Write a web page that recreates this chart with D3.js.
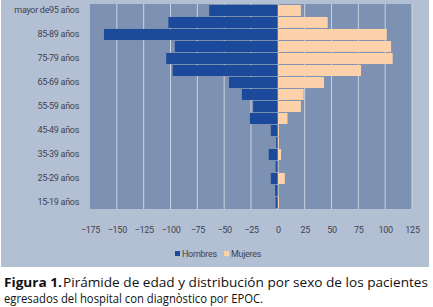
<!DOCTYPE html>
<html>
<head>
<meta charset="utf-8">
<script src="https://cdn.jsdelivr.net/npm/d3@7"></script>
<style>
  body { margin: 0; background: #fff; }
  svg { display: block; }
</style>
</head>
<body>
<div id="chart"></div>
<script>
// age groups, bottom to top
const categories = ["15-19 años", "20-24 años", "25-29 años", "30-34 años", "35-39 años",
    "40-44 años", "45-49 años", "50-54 años", "55-59 años", "60-64 años", "65-69 años",
    "70-74 años", "75-79 años", "80-84 años", "85-89 años", "90-94 años", "mayor de95 años"]
const hombres = [-2, -2.5, -6.5, -2, -8.5, -1.5, -6.5, -26, -23, -33.5, -45.5, -98, -104, -96, -162, -102, -64]
const mujeres = [1, 0.5, 6.5, 0.5, 3, 1, 1, 9, 21.5, 24, 43, 77.5, 107, 105.5, 101.5, 46.5, 21.5]
const ticks = [-175, -150, -125, -100, -75, -50, -25, 0, 25, 50, 75, 100, 125]
const seriesNames = ["Hombres", "Mujeres"]

const width = 433, height = 307
const colors = {
    outer: '#b3bfd3',
    plot: '#7d92b2',
    grid: '#dde3ec',
    hombres: '#1c4a9a',
    mujeres: '#fdd1aa',
    text: '#3f4450'
}
const plot = {left: 90, right: 412, top: 4, bottom: 209}
const chartFont = '"Liberation Sans Narrow", "Roboto", sans-serif'

const svg = d3.select('#chart')
    .append('svg')
    .attr('width', width)
    .attr('height', height)

svg.append('rect')
    .attr('x', 1).attr('y', 0)
    .attr('width', 428).attr('height', 267)
    .attr('fill', colors.outer)

const x = d3.scaleLinear()
    .domain([-175, 125])
    .range([plot.left, plot.right])

const y = d3.scaleBand()
    .domain(categories)
    .range([plot.bottom, plot.top])
    .padding(0.08)

svg.append('rect')
    .attr('x', plot.left).attr('y', plot.top)
    .attr('width', plot.right - plot.left)
    .attr('height', plot.bottom - plot.top)
    .attr('fill', colors.plot)

// gridlines
svg.append('g')
    .selectAll('line')
    .data(ticks.slice(1))
    .join('line')
    .attr('x1', d => x(d)).attr('x2', d => x(d))
    .attr('y1', plot.top).attr('y2', plot.bottom)
    .attr('stroke', colors.grid)
    .attr('stroke-width', 1)
    .attr('stroke-opacity', 0.8)

// bars
const bars = svg.append('g')
bars.selectAll('rect.h')
    .data(categories)
    .join('rect')
    .attr('class', 'h')
    .attr('x', (d, i) => x(hombres[i]))
    .attr('y', d => y(d))
    .attr('width', (d, i) => x(0) - x(hombres[i]))
    .attr('height', y.bandwidth())
    .attr('fill', colors.hombres)

bars.selectAll('rect.m')
    .data(categories)
    .join('rect')
    .attr('class', 'm')
    .attr('x', x(0))
    .attr('y', d => y(d))
    .attr('width', (d, i) => x(mujeres[i]) - x(0))
    .attr('height', y.bandwidth())
    .attr('fill', colors.mujeres)

function styleText(sel) {
    sel.attr('fill', colors.text)
        .style('font-family', chartFont)
        .style('font-size', '9px')
        .style('letter-spacing', '-0.3px')
}

// x axis labels
const xAxis = svg.append('g')
    .attr('transform', 'translate(0,' + (plot.bottom + 18) + ')')
    .call(d3.axisBottom(x).tickValues(ticks).tickSize(0).tickPadding(0))
xAxis.select('.domain').remove()
xAxis.selectAll('text')
    .attr('dy', '0.71em')
    .call(styleText)

// y axis labels, every other category
const yAxis = svg.append('g')
    .attr('transform', 'translate(' + (plot.left - 11) + ',0)')
    .call(d3.axisLeft(y).tickValues(categories.filter((d, i) => i % 2 === 0)).tickSize(0).tickPadding(0))
yAxis.select('.domain').remove()
yAxis.selectAll('text')
    .call(styleText)

// legend
const legend = svg.append('g')
    .attr('transform', 'translate(175,254)')
const item = legend.selectAll('g')
    .data(seriesNames)
    .join('g')
    .attr('transform', (d, i) => 'translate(' + (i * 49) + ',0)')
item.append('rect')
    .attr('x', 0).attr('y', -3)
    .attr('width', 5).attr('height', 5)
    .attr('fill', (d, i) => i === 0 ? colors.hombres : colors.mujeres)
item.append('text')
    .attr('x', 7).attr('y', 0)
    .attr('dy', '0.32em')
    .call(styleText)
    .text(d => d)

// caption
const caption = svg.append('g')
    .style('font-family', '"Open Sans", sans-serif')
    .style('font-size', '12.5px')
    .attr('fill', '#111')
caption.append('text')
    .attr('x', 4).attr('y', 286.5)
    .attr('textLength', 58)
    .attr('lengthAdjust', 'spacingAndGlyphs')
    .style('font-weight', 'bold')
    .text('Figura 1.')
caption.append('text')
    .attr('x', 63).attr('y', 286.5)
    .attr('textLength', 365)
    .attr('lengthAdjust', 'spacingAndGlyphs')
    .text('Pirámide de edad y distribución por sexo de los pacientes')
caption.append('text')
    .attr('x', 4).attr('y', 303.2)
    .attr('textLength', 259)
    .attr('lengthAdjust', 'spacingAndGlyphs')
    .style('font-size', '12px')
    .text('egresados del hospital con diagnòstico por EPOC.')
</script>
</body>
</html>
